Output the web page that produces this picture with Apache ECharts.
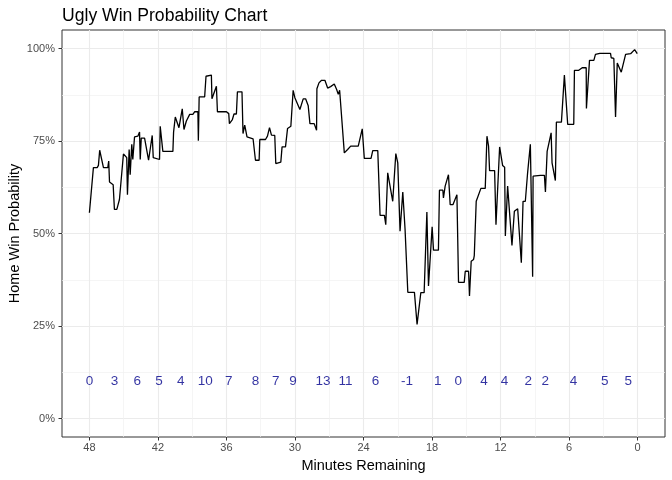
<!DOCTYPE html>
<html><head><meta charset="utf-8">
<script src="https://cdn.jsdelivr.net/npm/echarts@6/dist/echarts.min.js"></script>
<style>html,body{margin:0;padding:0;background:#fff}#c{width:672px;height:480px}</style>
</head><body><div id="c"></div>
<script>
const minutes = [48.00,47.65,47.32,47.21,47.10,46.77,46.39,46.31,46.24,46.10,45.92,45.81,45.60,45.37,45.22,45.02,44.73,44.67,44.52,44.43,44.29,44.20,44.05,43.76,43.61,43.55,43.46,43.17,42.82,42.65,42.50,42.41,42.30,41.86,41.80,41.57,40.69,40.63,40.48,40.16,39.87,39.72,39.51,39.22,38.94,38.79,38.50,38.46,38.39,37.91,37.79,37.32,37.27,36.88,36.79,36.00,35.80,35.74,35.48,35.34,35.13,35.04,34.64,34.55,34.40,34.20,33.67,33.46,33.14,33.08,32.58,32.41,32.23,32.06,31.77,31.68,31.24,31.13,30.83,30.65,30.36,30.16,30.01,29.86,29.57,29.28,29.07,28.84,28.69,28.32,28.11,28.08,27.90,27.67,27.38,27.14,26.88,26.56,26.35,26.21,26.09,25.68,25.39,25.12,24.46,24.11,23.93,23.34,23.19,22.75,22.55,22.17,22.05,21.88,21.44,21.17,21.00,20.80,20.56,20.36,20.21,20.12,19.54,19.31,18.98,18.69,18.45,18.31,17.99,17.87,17.44,17.35,17.05,17.00,16.85,16.56,16.41,16.17,15.82,15.68,15.18,15.09,14.80,14.72,14.57,14.36,14.30,14.15,14.13,13.72,13.34,13.19,13.05,12.96,12.52,12.40,12.08,11.82,11.64,11.58,11.38,11.00,10.79,10.50,10.18,10.03,9.83,9.63,9.39,9.19,9.15,8.51,8.16,8.07,7.92,7.57,7.49,7.20,7.11,6.67,6.41,6.12,5.59,5.53,5.15,4.85,4.50,4.48,4.21,3.83,3.69,3.31,2.37,2.31,2.08,1.93,1.78,1.43,1.05,0.61,0.26,0.03];
const winProb = [0.556,0.678,0.678,0.684,0.725,0.678,0.678,0.696,0.639,0.642,0.632,0.565,0.565,0.592,0.594,0.715,0.705,0.605,0.727,0.659,0.741,0.700,0.761,0.763,0.774,0.700,0.758,0.758,0.698,0.698,0.765,0.705,0.700,0.700,0.790,0.722,0.722,0.774,0.815,0.786,0.837,0.781,0.804,0.822,0.822,0.829,0.829,0.751,0.869,0.869,0.925,0.928,0.864,0.898,0.829,0.829,0.824,0.797,0.808,0.823,0.823,0.883,0.883,0.770,0.793,0.761,0.756,0.698,0.698,0.754,0.754,0.763,0.786,0.766,0.765,0.689,0.693,0.734,0.734,0.784,0.790,0.887,0.867,0.865,0.835,0.864,0.864,0.845,0.797,0.797,0.779,0.891,0.907,0.914,0.914,0.893,0.897,0.904,0.889,0.876,0.887,0.718,0.727,0.736,0.736,0.783,0.703,0.703,0.724,0.724,0.549,0.549,0.524,0.664,0.587,0.716,0.691,0.506,0.612,0.511,0.511,0.341,0.341,0.254,0.340,0.340,0.558,0.358,0.518,0.455,0.455,0.617,0.617,0.596,0.628,0.659,0.578,0.578,0.605,0.368,0.368,0.398,0.398,0.331,0.425,0.430,0.440,0.440,0.587,0.622,0.622,0.763,0.736,0.670,0.670,0.524,0.734,0.684,0.679,0.493,0.628,0.468,0.560,0.567,0.421,0.587,0.587,0.664,0.741,0.383,0.655,0.657,0.657,0.612,0.722,0.772,0.691,0.643,0.801,0.801,0.928,0.795,0.795,0.941,0.941,0.948,0.948,0.838,0.968,0.968,0.984,0.987,0.987,0.975,0.973,0.815,0.961,0.936,0.984,0.986,0.997,0.986];
const labelMinutes = [48,45.8,43.8,41.9,40.0,37.85,35.8,33.45,31.68,30.17,27.55,25.58,22.95,20.2,17.5,15.7,13.45,11.65,9.58,8.08,5.62,2.88,0.81];
const labelScores = [0,3,6,5,4,10,7,8,7,9,13,11,6,-1,1,0,4,4,2,2,4,5,5];
const labelLevel = 0.10;
const xMajorTicks = [48,42,36,30,24,18,12,6,0];
const xMinorTicks = [45,39,33,27,21,15,9,3];
const yMajorTicks = [0,0.25,0.5,0.75,1];
const yMinorTicks = [0.125,0.375,0.625,0.875];
const xRange = [-2.4, 50.4];
const yRange = [-0.05, 1.05];

const FONT = '"Liberation Sans", Arial, sans-serif';
const chart = echarts.init(document.getElementById('c'), null, {renderer: 'canvas'});
const lineData = minutes.map((m, i) => [m, winProb[i]]);
const labelData = labelMinutes.map((m, i) => [m, labelLevel, labelScores[i]]);

chart.setOption({
  animation: false,
  backgroundColor: '#ffffff',
  title: {
    text: 'Ugly Win Probability Chart',
    left: 57, top: 2,
    textStyle: {fontFamily: FONT, fontSize: 17.6, fontWeight: 'normal', color: '#000'}
  },
  grid: {left: 62, right: 7, top: 30, bottom: 43, containLabel: false, outerBoundsMode: 'none',
    show: true, borderColor: '#333333', borderWidth: 1, backgroundColor: 'transparent'},
  xAxis: [{
    type: 'value', min: xRange[0], max: xRange[1], inverse: true, position: 'bottom',
    name: 'Minutes Remaining', nameLocation: 'middle', nameGap: 21, nameMoveOverlap: false,
    nameTextStyle: {fontFamily: FONT, fontSize: 14.5, color: '#000'},
    axisLine: {show: false, onZero: false},
    axisTick: {show: true, length: 3.5, customValues: xMajorTicks, lineStyle: {color: '#333333', width: 1}},
    axisLabel: {customValues: xMajorTicks, margin: 5, fontFamily: FONT, fontSize: 11, color: '#4d4d4d'},
    splitLine: {show: true, lineStyle: {color: '#ebebeb', width: 1.1}}
  }, {
    type: 'value', min: xRange[0], max: xRange[1], inverse: true, position: 'bottom',
    axisLine: {show: false, onZero: false},
    axisTick: {show: false, customValues: xMinorTicks},
    axisLabel: {show: false, customValues: xMinorTicks},
    splitLine: {show: true, lineStyle: {color: '#f0f0f0', width: 0.7}}
  }],
  yAxis: [{
    type: 'value', min: yRange[0], max: yRange[1], position: 'left',
    name: 'Home Win Probability', nameLocation: 'middle', nameGap: 40, nameMoveOverlap: false,
    nameTextStyle: {fontFamily: FONT, fontSize: 14.5, color: '#000'},
    axisLine: {show: false, onZero: false},
    axisTick: {show: true, length: 3.5, customValues: yMajorTicks, lineStyle: {color: '#333333', width: 1}},
    axisLabel: {customValues: yMajorTicks, margin: 7, fontFamily: FONT, fontSize: 11, color: '#4d4d4d',
      formatter: v => Math.round(v * 100) + '%'},
    splitLine: {show: true, lineStyle: {color: '#ebebeb', width: 1.1}}
  }, {
    type: 'value', min: yRange[0], max: yRange[1], position: 'left',
    axisLine: {show: false, onZero: false},
    axisTick: {show: false, customValues: yMinorTicks},
    axisLabel: {show: false, customValues: yMinorTicks},
    splitLine: {show: true, lineStyle: {color: '#f0f0f0', width: 0.7}}
  }],
  series: [{
    type: 'line', xAxisIndex: 0, yAxisIndex: 0, data: lineData,
    showSymbol: false, symbol: 'none',
    lineStyle: {color: '#000000', width: 1.3},
    z: 3
  }, {
    type: 'scatter', xAxisIndex: 0, yAxisIndex: 0, data: labelData,
    symbolSize: 1, itemStyle: {color: 'transparent'},
    label: {show: true, position: 'inside', formatter: p => String(p.value[2]),
      fontFamily: FONT, fontSize: 13.5, color: '#00008b'},
    z: 4
  }]
});
</script>
</body></html>
